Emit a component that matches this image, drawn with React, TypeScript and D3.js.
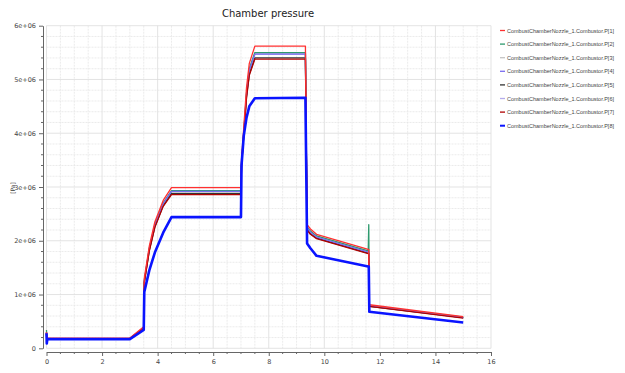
import * as d3 from "d3"
import { useLayoutEffect, useRef } from "react"

const seriesNames = [
  "CombustChamberNozzle_1.Combustor.P[1]",
  "CombustChamberNozzle_1.Combustor.P[2]",
  "CombustChamberNozzle_1.Combustor.P[3]",
  "CombustChamberNozzle_1.Combustor.P[4]",
  "CombustChamberNozzle_1.Combustor.P[5]",
  "CombustChamberNozzle_1.Combustor.P[6]",
  "CombustChamberNozzle_1.Combustor.P[7]",
  "CombustChamberNozzle_1.Combustor.P[8]",
]

const seriesColors = ["#ff3030", "#2e9a6e", "#c4c4c4", "#7a6cf0", "#333333", "#b4acec", "#b00000", "#0a14ff"]

// drawing order: light ones first, blue on top
const drawOrder = [2, 5, 4, 1, 3, 6, 0, 7]

// time [s]
const time = [0, 0.01, 0.03, 3.0, 3.5, 3.52, 3.7, 3.9, 4.2, 4.5, 7.0, 7.02, 7.1, 7.2, 7.3, 7.5, 9.32, 9.38, 9.5, 9.72, 11.58, 11.6, 11.62, 15.0]

// pressure values in 1e6 Pa
const p1 = [0.30, 0.15, 0.19, 0.19, 0.40, 1.30, 1.90, 2.35, 2.75, 2.99, 2.99, 3.50, 4.10, 4.85, 5.30, 5.62, 5.62, 2.30, 2.22, 2.12, 1.84, 1.84, 0.81, 0.59]
const p2 = [0.34, 0.14, 0.18, 0.18, 0.38, 1.26, 1.86, 2.30, 2.70, 2.93, 2.93, 3.45, 4.02, 4.75, 5.20, 5.50, 5.50, 2.26, 2.18, 2.09, 1.81, 2.30, 0.79, 0.58]
const p3 = [0.30, 0.14, 0.18, 0.18, 0.38, 1.25, 1.85, 2.29, 2.69, 2.93, 2.93, 3.44, 4.01, 4.74, 5.19, 5.49, 5.49, 2.25, 2.17, 2.08, 1.80, 1.80, 0.79, 0.58]
const p4 = [0.30, 0.14, 0.18, 0.18, 0.38, 1.25, 1.85, 2.29, 2.69, 2.92, 2.92, 3.43, 4.00, 4.72, 5.17, 5.47, 5.47, 2.24, 2.16, 2.07, 1.79, 1.79, 0.79, 0.57]
const p5 = [0.29, 0.14, 0.18, 0.18, 0.37, 1.23, 1.82, 2.26, 2.65, 2.88, 2.88, 3.40, 3.96, 4.68, 5.10, 5.40, 5.40, 2.21, 2.13, 2.05, 1.77, 1.77, 0.78, 0.57]
const p6 = [0.30, 0.14, 0.18, 0.18, 0.38, 1.24, 1.84, 2.28, 2.68, 2.92, 2.92, 3.42, 3.99, 4.71, 5.16, 5.47, 5.47, 2.23, 2.15, 2.07, 1.79, 1.79, 0.79, 0.57]
const p7 = [0.29, 0.14, 0.18, 0.18, 0.37, 1.22, 1.81, 2.25, 2.64, 2.86, 2.86, 3.38, 3.94, 4.66, 5.08, 5.38, 5.38, 2.20, 2.12, 2.04, 1.76, 1.76, 0.78, 0.56]
const p8 = [0.28, 0.09, 0.17, 0.17, 0.34, 1.05, 1.45, 1.78, 2.15, 2.44, 2.44, 3.40, 3.95, 4.29, 4.50, 4.65, 4.66, 1.95, 1.86, 1.72, 1.52, 1.52, 0.68, 0.48]

const seriesValues = [p1, p2, p3, p4, p5, p6, p7, p8]

const xTicks = [0, 2, 4, 6, 8, 10, 12, 14, 16]
const yTicks = [0, 1e6, 2e6, 3e6, 4e6, 5e6, 6e6]

const W = 625
const H = 373

export default function App() {
  const ref = useRef<SVGSVGElement>(null)

  useLayoutEffect(() => {
    if (!ref.current) return
    const svg = d3.select(ref.current)
    svg.selectAll("*").remove()

    const x = d3.scaleLinear().domain([0, 16]).range([46.5, 491])
    const y = d3.scaleLinear().domain([0, 6e6]).range([348.3, 25.7])
    const axisColor = "#666"
    const font = "'DejaVu Sans', sans-serif"

    svg.append("rect").attr("width", W).attr("height", H).attr("fill", "#fff")

    // grid
    const grid = svg.append("g")
    const xMinor = d3.range(0, 16.01, 0.5)
    const yMinor = d3.range(0, 6e6 + 1, 2e5)
    grid
      .selectAll(".gx")
      .data(xMinor)
      .enter()
      .append("line")
      .attr("x1", (d) => x(d))
      .attr("x2", (d) => x(d))
      .attr("y1", y(6e6))
      .attr("y2", y(0))
      .attr("stroke", (d) => (d % 2 === 0 ? "#dcdcdc" : "#e6e6e6"))
      .attr("stroke-dasharray", (d) => (d % 2 === 0 ? null : "2,1"))
      .attr("stroke-width", 0.8)
    grid
      .selectAll(".gy")
      .data(yMinor)
      .enter()
      .append("line")
      .attr("x1", x(0))
      .attr("x2", x(16))
      .attr("y1", (d) => y(d))
      .attr("y2", (d) => y(d))
      .attr("stroke", (d) => (Math.round(d / 2e5) % 5 === 0 ? "#dcdcdc" : "#e6e6e6"))
      .attr("stroke-dasharray", (d) => (Math.round(d / 2e5) % 5 === 0 ? null : "2,1"))
      .attr("stroke-width", 0.8)

    // y axis
    const yAxis = svg
      .append("g")
      .attr("transform", "translate(43,0)")
      .call(
        d3
          .axisLeft(y)
          .tickValues(yTicks)
          .tickSize(4)
          .tickSizeOuter(0)
          .tickFormat((d) => ((d as number) === 0 ? "0" : `${(d as number) / 1e6}e+06`)),
      )
    yAxis
      .selectAll(".minor")
      .data(yMinor.filter((d) => Math.round(d / 2e5) % 5 !== 0))
      .enter()
      .append("line")
      .attr("x1", -2)
      .attr("x2", 0)
      .attr("y1", (d) => y(d))
      .attr("y2", (d) => y(d))
      .attr("stroke", axisColor)

    // x axis
    const xAxis = svg
      .append("g")
      .attr("transform", "translate(0,352)")
      .call(d3.axisBottom(x).tickValues(xTicks).tickSize(4).tickSizeOuter(0))
    xAxis
      .selectAll(".minor")
      .data(xMinor.filter((d) => d % 2 !== 0))
      .enter()
      .append("line")
      .attr("x1", (d) => x(d))
      .attr("x2", (d) => x(d))
      .attr("y1", 0)
      .attr("y2", 2)
      .attr("stroke", axisColor)

    for (const ax of [xAxis, yAxis]) {
      ax.selectAll("path,line").attr("stroke", axisColor)
      ax.selectAll("text").attr("fill", "#444").style("font-family", font).style("font-size", "6.5px")
    }
    xAxis.selectAll("text").attr("dy", "0.75em")

    // lines
    const line = d3
      .line<number>()
      .x((_, i) => x(time[i]))
      .y((d) => y(d * 1e6))
    svg
      .append("g")
      .selectAll("path")
      .data(drawOrder)
      .enter()
      .append("path")
      .attr("d", (k) => line(seriesValues[k]))
      .attr("fill", "none")
      .attr("stroke", (k) => seriesColors[k])
      .attr("stroke-width", (k) => (k === 7 ? 2.6 : 1.3))
      .attr("stroke-linejoin", "round")

    // title and labels
    svg
      .append("text")
      .attr("x", 268)
      .attr("y", 17)
      .attr("text-anchor", "middle")
      .style("font-family", font)
      .style("font-size", "10px")
      .attr("fill", "#222")
      .text("Chamber pressure")
    svg
      .append("text")
      .attr("transform", "translate(15,188) rotate(-90)")
      .attr("text-anchor", "middle")
      .style("font-family", font)
      .style("font-size", "6px")
      .attr("fill", "#444")
      .text("[Pa]")
    svg
      .append("text")
      .attr("x", 269)
      .attr("y", 372.5)
      .attr("text-anchor", "middle")
      .style("font-family", font)
      .style("font-size", "5.5px")
      .attr("fill", "#444")
      .text("time")

    // legend
    const legend = svg
      .append("g")
      .selectAll("g")
      .data(seriesNames)
      .enter()
      .append("g")
      .attr("transform", (_, i) => `translate(500,${30.5 + i * 13.6})`)
    legend
      .append("line")
      .attr("x1", 0)
      .attr("x2", 5)
      .attr("stroke", (_, i) => seriesColors[i])
      .attr("stroke-width", (_, i) => (i === 7 ? 2 : 1.3))
    legend
      .append("text")
      .attr("x", 7)
      .attr("dy", "0.35em")
      .attr("textLength", 107)
      .attr("lengthAdjust", "spacingAndGlyphs")
      .style("font-family", "'Liberation Sans', sans-serif")
      .style("font-size", "5.8px")
      .attr("fill", "#444")
      .text((d) => d)
  }, [])

  return <svg ref={ref} width={W} height={H} style={{ display: "block", margin: -8 }} />
}
